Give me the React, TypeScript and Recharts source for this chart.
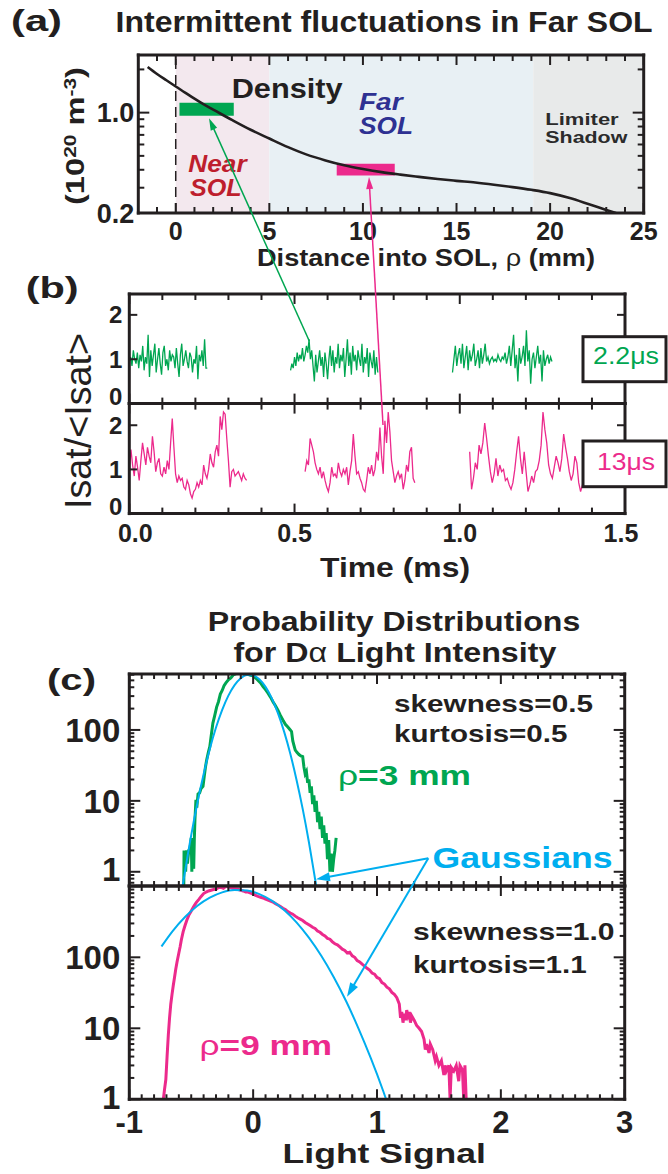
import React from 'react';
import { LineChart, Line, XAxis, YAxis, ReferenceArea, ReferenceLine } from 'recharts';

const W = 668;
const H = 1174;
const AX = 10;
const FONT = '"Liberation Sans", Arial, Helvetica, sans-serif';
const INK = '#231f20';
const GREEN = '#00a651';
const PINK = '#ec2a8c';
const CYAN = '#00aeef';
const NEAR_RED = '#be1e2d';
const FAR_BLUE = '#2e3192';

// ---------------- Panel (a): density profile ----------------
const rhoMm = [-1.5, -1, -0.5, 0, 0.5, 1, 1.5, 2, 3, 4, 5, 6, 7, 8, 9, 10, 11, 12, 13, 14, 15, 16, 17, 18, 19, 20, 21, 22, 23, 23.6];
const densityE20 = [2.08, 1.86, 1.68, 1.52, 1.38, 1.25, 1.14, 1.05, 0.89, 0.76, 0.66, 0.575, 0.51, 0.465, 0.43, 0.405, 0.385, 0.37, 0.357, 0.345, 0.335, 0.326, 0.315, 0.303, 0.29, 0.275, 0.255, 0.232, 0.21, 0.198];
const solBounds = [-2, 0, 5, 19.1, 25]; // private, near SOL, far SOL, limiter shadow
const nearProbe = { x: [0.2, 3.1], n: [0.95, 1.17] };
const farProbe = { x: [8.6, 11.7], n: [0.365, 0.44] };
const aXTicks = [-1, 0, 1, 2, 3, 4, 5, 6, 7, 8, 9, 10, 11, 12, 13, 14, 15, 16, 17, 18, 19, 20, 21, 22, 23, 24, 25];
const aXMajors = [0, 5, 10, 15, 20, 25];
const aYTicks = [0.2, 0.3, 0.4, 0.5, 0.6, 0.7, 0.8, 0.9, 1, 2];
const aYMajors = [0.2, 1];

// ---------------- Panel (b): Isat time traces ----------------
const g1Span = [0, 0.236];
const g1 = [0.95, 1.05, 0.85, 1.2, 1.0, 0.9, 1.15, 0.8, 1.1, 0.95, 1.3, 0.75, 1.05, 0.9, 1.55, 0.6, 1.2, 0.85, 1.1, 1.35, 0.7, 1.0, 1.25, 0.9, 0.65, 1.15, 1.3, 0.85, 1.0, 0.75, 1.2, 0.95, 1.1, 1.05, 0.8, 1.25, 0.9, 0.6, 1.1, 1.35, 0.85, 1.0, 1.2, 0.95, 0.8, 1.15, 1.05, 0.7, 1.0, 0.9, 1.3, 0.55, 1.1, 0.95, 1.2, 0.85, 1.45, 0.8, 0.8];
const g2Span = [0.488, 0.752];
const g2 = [0.75, 0.9, 0.8, 1.05, 0.85, 1.15, 0.95, 1.1, 1.0, 1.25, 0.95, 1.1, 1.3, 1.15, 1.45, 1.0, 1.2, 0.85, 0.5, 1.1, 0.7, 0.95, 1.2, 0.85, 1.05, 0.6, 1.15, 0.9, 0.55, 1.0, 1.3, 0.85, 1.2, 0.7, 1.05, 0.9, 1.35, 0.8, 1.1, 0.95, 1.25, 0.6, 1.0, 1.45, 0.85, 1.15, 0.65, 1.3, 0.95, 1.1, 0.75, 1.2, 1.0, 0.85, 1.35, 0.7, 1.05, 0.9, 1.25, 0.6, 1.15, 0.95, 0.8, 1.2, 0.65, 1.05, 0.7];
const g3Span = [0.978, 1.279];
const g3 = [0.7, 1.0, 1.3, 0.85, 1.1, 1.25, 0.9, 1.35, 0.8, 1.05, 1.3, 0.75, 1.2, 0.95, 1.1, 1.35, 0.85, 1.0, 1.2, 0.8, 1.25, 0.9, 1.1, 1.35, 0.95, 1.05, 0.9, 1.0, 1.05, 0.95, 1.0, 0.95, 1.1, 1.0, 0.95, 1.05, 1.0, 1.15, 0.9, 1.05, 1.3, 0.85, 1.2, 1.55, 0.8, 1.1, 0.5, 1.25, 0.9, 1.05, 1.3, 0.85, 1.65, 0.95, 1.2, 0.45, 1.0, 1.15, 0.8, 1.05, 1.3, 0.9, 1.1, 0.5, 1.2, 0.85, 1.0, 1.1, 0.9, 1.05, 0.95];
const p1Span = [0, 0.355];
const p1 = [1.0, 1.45, 1.1, 0.85, 1.3, 1.05, 0.75, 1.2, 1.6, 1.35, 1.1, 1.5, 1.3, 1.15, 1.75, 1.4, 0.95, 1.15, 1.25, 0.9, 0.85, 1.05, 0.9, 1.2, 1.0, 1.6, 2.15, 1.5, 0.9, 0.7, 0.85, 0.75, 0.8, 0.6, 0.55, 0.75, 0.65, 0.45, 0.35, 0.5, 0.55, 0.7, 0.6, 0.75, 0.65, 1.1, 0.9, 0.8, 1.0, 1.35, 1.15, 1.05, 1.4, 1.55, 1.3, 2.2, 1.9, 2.3, 2.25, 1.7, 1.2, 0.6, 0.95, 1.0, 0.85, 0.9, 0.95, 0.85, 0.75, 0.9, 0.8, 0.75];
const p2Span = [0.532, 0.864];
const p2 = [0.95, 1.2, 1.1, 1.7, 1.55, 1.4, 1.15, 1.0, 0.9, 1.05, 0.8, 0.95, 0.75, 0.6, 0.5, 0.7, 1.05, 0.85, 0.9, 0.8, 1.15, 0.95, 0.85, 1.0, 0.9, 1.05, 0.65, 0.95, 1.2, 1.8, 1.3, 0.9, 0.95, 0.8, 0.7, 0.55, 0.5, 0.75, 1.05, 0.9, 1.1, 0.85, 1.0, 1.4, 1.2, 1.95, 1.3, 0.9, 2.1, 1.6, 2.3, 1.85, 1.2, 0.95, 0.7, 0.85, 0.95, 0.8, 0.9, 0.55, 0.75, 1.1, 0.95, 1.4, 1.5, 0.8, 0.7];
const p3Span = [1.03, 1.377];
const p3 = [1.4, 0.55, 0.8, 1.15, 1.0, 1.55, 1.35, 1.6, 2.05, 1.7, 1.3, 0.95, 0.7, 0.9, 1.25, 0.85, 1.1, 0.95, 1.0, 0.75, 0.8, 0.65, 0.55, 0.7, 1.0, 1.4, 1.75, 1.25, 0.9, 1.4, 0.95, 0.5, 0.65, 0.85, 0.7, 0.95, 1.0, 1.2, 1.55, 2.3, 1.9, 1.6, 1.1, 0.9, 0.8, 1.05, 1.3, 1.15, 0.95, 1.25, 1.8, 1.5, 1.25, 0.95, 0.75, 0.9, 1.3, 1.15, 0.7, 0.5, 0.65, 0.6];
const bTimeMajors = [0, 0.5, 1.0, 1.5];
const bTimeLabels = ['0.0', '0.5', '1.0', '1.5'];
const bYTicks = [0, 1, 2];

// ---------------- Panel (c): PDFs ----------------
const greenPdf: [number, number][] = [[-0.56, 0.63], [-0.558, 1.9], [-0.55, 1.9], [-0.545, 1.0], [-0.538, 2.0], [-0.53, 1.3], [-0.52, 2.0], [-0.51, 2.1], [-0.5, 3.0], [-0.495, 1.0], [-0.49, 3.0], [-0.48, 1.1], [-0.475, 2.9], [-0.47, 5.4], [-0.462, 10.3], [-0.455, 8], [-0.445, 12.5], [-0.432, 13], [-0.42, 15], [-0.405, 16], [-0.395, 22], [-0.385, 30], [-0.375, 38], [-0.36, 50], [-0.35, 58], [-0.34, 80], [-0.325, 125], [-0.31, 160], [-0.295, 210], [-0.28, 250], [-0.265, 320], [-0.25, 360], [-0.235, 420], [-0.22, 460], [-0.2, 510], [-0.18, 540], [-0.16, 600], [-0.14, 620], [-0.12, 680], [-0.1, 650], [-0.08, 660], [-0.06, 630], [-0.04, 610], [-0.02, 590], [0.0, 580], [0.02, 540], [0.04, 500], [0.06, 460], [0.08, 410], [0.1, 370], [0.12, 330], [0.14, 290], [0.16, 250], [0.18, 220], [0.2, 190], [0.22, 160], [0.24, 138], [0.26, 120], [0.28, 110], [0.3, 100], [0.31, 95], [0.32, 70], [0.33, 60], [0.34, 52], [0.355, 48], [0.37, 45], [0.385, 43], [0.4, 42], [0.41, 30], [0.42, 24], [0.43, 26], [0.44, 18], [0.45, 20], [0.46, 13], [0.47, 16], [0.48, 9], [0.49, 12], [0.5, 7], [0.51, 10], [0.52, 5], [0.53, 7], [0.54, 4], [0.55, 6], [0.56, 3], [0.57, 4.5], [0.58, 2.5], [0.59, 3.5], [0.6, 1.5], [0.61, 2.8], [0.62, 1.0], [0.63, 1.8], [0.64, 1.0], [0.65, 1.5], [0.66, 2.0], [0.67, 3.0]];
const gaussNear: [number, number][] = [[-0.57, 0.62], [-0.5, 3.28], [-0.45, 9.4], [-0.4, 23.8], [-0.35, 53.7], [-0.3, 108], [-0.25, 192], [-0.2, 305], [-0.15, 429], [-0.1, 537], [-0.05, 597], [0.0, 590], [0.05, 518], [0.1, 405], [0.15, 281], [0.2, 173], [0.25, 94.6], [0.3, 46.1], [0.35, 19.9], [0.4, 7.7], [0.45, 2.63], [0.5, 0.79], [0.51, 0.62]];
const pinkPdf: [number, number][] = [[-0.725, 1.0], [-0.715, 1.4], [-0.705, 1.9], [-0.695, 4], [-0.685, 8], [-0.675, 14], [-0.665, 22], [-0.655, 30], [-0.645, 40], [-0.635, 52], [-0.625, 68], [-0.615, 85], [-0.6, 115], [-0.59, 140], [-0.58, 175], [-0.565, 230], [-0.55, 280], [-0.535, 335], [-0.52, 390], [-0.5, 450], [-0.48, 520], [-0.46, 590], [-0.44, 650], [-0.42, 720], [-0.4, 790], [-0.38, 830], [-0.36, 860], [-0.34, 880], [-0.32, 900], [-0.3, 910], [-0.28, 960], [-0.26, 970], [-0.24, 940], [-0.22, 1000], [-0.2, 980], [-0.18, 960], [-0.16, 930], [-0.14, 920], [-0.12, 900], [-0.1, 880], [-0.08, 860], [-0.06, 830], [-0.04, 830], [-0.02, 800], [0.0, 780], [0.02, 745], [0.04, 720], [0.06, 700], [0.08, 685], [0.1, 660], [0.12, 640], [0.14, 620], [0.16, 600], [0.18, 570], [0.2, 545], [0.22, 520], [0.24, 490], [0.26, 470], [0.28, 440], [0.3, 420], [0.32, 405], [0.34, 380], [0.36, 360], [0.38, 345], [0.4, 330], [0.42, 310], [0.44, 295], [0.46, 280], [0.48, 265], [0.5, 255], [0.52, 235], [0.54, 225], [0.56, 210], [0.58, 200], [0.6, 185], [0.62, 180], [0.64, 165], [0.66, 155], [0.68, 150], [0.7, 140], [0.72, 130], [0.74, 125], [0.76, 115], [0.78, 118], [0.8, 105], [0.82, 100], [0.84, 90], [0.86, 86], [0.88, 80], [0.9, 75], [0.92, 70], [0.94, 66], [0.96, 60], [0.98, 58], [1.0, 52], [1.02, 50], [1.04, 44], [1.06, 42], [1.08, 38], [1.1, 36], [1.12, 32], [1.14, 30], [1.16, 27], [1.18, 22], [1.19, 14], [1.2, 17], [1.21, 12], [1.22, 16], [1.23, 13], [1.24, 18], [1.25, 15], [1.26, 17], [1.27, 12], [1.28, 15], [1.3, 13], [1.32, 11], [1.34, 10], [1.36, 9], [1.38, 7], [1.39, 5], [1.4, 6], [1.42, 4.5], [1.43, 6], [1.45, 5], [1.47, 3.5], [1.48, 4], [1.5, 3], [1.52, 3.5], [1.54, 2.2], [1.55, 3], [1.56, 2.5], [1.58, 3], [1.59, 1.0], [1.6, 2.8], [1.62, 2.5], [1.64, 3], [1.66, 1.8], [1.67, 3], [1.69, 2.6], [1.7, 1.0], [1.71, 3], [1.72, 1.0]];
const gaussFar: [number, number][] = [[-0.74, 142], [-0.65, 234], [-0.55, 369], [-0.45, 531], [-0.35, 692], [-0.25, 822], [-0.15, 887], [-0.05, 871], [0.05, 777], [0.15, 630], [0.25, 464], [0.35, 311], [0.45, 189], [0.55, 105], [0.65, 52.8], [0.75, 24.2], [0.85, 10.0], [0.95, 3.8], [1.05, 1.31], [1.08, 0.93]];
const cXMajors = [-1, 0, 1, 2, 3];
const cYMajors = [1, 10, 100, 1000];
const cYTicksUpper = [0.7, 0.8, 0.9, 1, 2, 3, 4, 5, 6, 7, 8, 9, 10, 20, 30, 40, 50, 60, 70, 80, 90, 100, 200, 300, 400, 500, 600];
const cYTicksLower = [1, 2, 3, 4, 5, 6, 7, 8, 9, 10, 20, 30, 40, 50, 60, 70, 80, 90, 100, 200, 300, 400, 500, 600, 700, 800, 900, 1000];

// ---------------- helpers ----------------
const steps = (a: number, b: number, n: number) => Array.from({ length: n + 1 }, (_, i) => Math.round((a + ((b - a) * i) / n) * 1000) / 1000);
const series = (span: number[], vals: number[]) => vals.map((y, i) => ({ x: span[0] + ((span[1] - span[0]) * i) / (vals.length - 1), y }));
const pairs = (p: [number, number][]) => p.map(([x, y]) => ({ x, y }));
const isIn = (arr: number[], v: number) => arr.some((m) => Math.abs(m - v) < 1e-9);

type Side = 'bottom' | 'top' | 'left' | 'right';
interface TickSpec {
  side: Side;
  majors: number[];
  majorLen: number;
  minorLen: number;
  label?: (v: number) => string | null;
  fontSize?: number;
  gap?: number;
  nudge?: (v: number) => number;
}

function tickRenderer(spec: TickSpec) {
  return (props: any) => {
    const x = Number(props.x);
    const y = Number(props.y);
    const v = Number(props.payload.value);
    const len = isIn(spec.majors, v) ? spec.majorLen : spec.minorLen;
    let x2 = x;
    let y2 = y;
    if (spec.side === 'bottom') y2 = y - len;
    if (spec.side === 'top') y2 = y + len;
    if (spec.side === 'left') x2 = x + len;
    if (spec.side === 'right') x2 = x - len;
    const text = spec.label ? spec.label(v) : null;
    const fs = spec.fontSize ?? 24;
    const nudge = spec.nudge ? spec.nudge(v) : 0;
    return (
      <g>
        <line x1={x} y1={y} x2={x2} y2={y2} stroke={INK} strokeWidth={2} />
        {text !== null && spec.side === 'bottom' && (
          <text x={x + nudge} y={y + (spec.gap ?? 28)} textAnchor="middle" fontFamily={FONT} fontWeight="bold" fontSize={fs} fill={INK}>
            {text}
          </text>
        )}
        {text !== null && spec.side === 'left' && (
          <text x={x - (spec.gap ?? 6)} y={y + fs * 0.36 + nudge} textAnchor="end" fontFamily={FONT} fontWeight="bold" fontSize={fs} fill={INK}>
            {text}
          </text>
        )}
      </g>
    );
  };
}

interface FrameCfg {
  xDomain: [number, number];
  xTicks: number[];
  xMajors: number[];
  xMajorLen: number;
  xMinorLen: number;
  xLabel?: (v: number) => string | null;
  xFont?: number;
  xGap?: number;
  xNudge?: (v: number) => number;
  yDomain: [number, number];
  yLog?: boolean;
  yTicks: number[];
  yMajors: number[];
  yMajorLen: number;
  yMinorLen: number;
  yLabel?: (v: number) => string | null;
  yFont?: number;
  yGap?: number;
  yNudge?: (v: number) => number;
}

function frameAxes(c: FrameCfg) {
  const axisLine = { stroke: INK, strokeWidth: 3, strokeLinecap: 'square' };
  const ys = c.yLog ? 'log' : 'linear';
  return [
    <XAxis key="xb" xAxisId="b" orientation="bottom" type="number" dataKey="x" height={AX} domain={c.xDomain} ticks={c.xTicks} interval={0} allowDataOverflow tickLine={false} tickSize={0} tickMargin={0} axisLine={axisLine}
      tick={tickRenderer({ side: 'bottom', majors: c.xMajors, majorLen: c.xMajorLen, minorLen: c.xMinorLen, label: c.xLabel, fontSize: c.xFont, gap: c.xGap, nudge: c.xNudge })} />,
    <XAxis key="xt" xAxisId="t" orientation="top" type="number" dataKey="x" height={AX} domain={c.xDomain} ticks={c.xTicks} interval={0} allowDataOverflow tickLine={false} tickSize={0} tickMargin={0} axisLine={axisLine}
      tick={tickRenderer({ side: 'top', majors: c.xMajors, majorLen: c.xMajorLen, minorLen: c.xMinorLen })} />,
    <YAxis key="yl" yAxisId="l" orientation="left" type="number" scale={ys} width={AX} domain={c.yDomain} ticks={c.yTicks} interval={0} allowDataOverflow tickLine={false} tickSize={0} tickMargin={0} axisLine={axisLine}
      tick={tickRenderer({ side: 'left', majors: c.yMajors, majorLen: c.yMajorLen, minorLen: c.yMinorLen, label: c.yLabel, fontSize: c.yFont, gap: c.yGap, nudge: c.yNudge })} />,
    <YAxis key="yr" yAxisId="r" orientation="right" type="number" scale={ys} width={AX} domain={c.yDomain} ticks={c.yTicks} interval={0} allowDataOverflow tickLine={false} tickSize={0} tickMargin={0} axisLine={axisLine}
      tick={tickRenderer({ side: 'right', majors: c.yMajors, majorLen: c.yMajorLen, minorLen: c.yMinorLen })} />,
  ];
}

interface Box { l: number; r: number; t: number; b: number }
const marginFor = (b: Box) => ({ left: b.l - AX, right: W - b.r - AX, top: b.t - AX, bottom: H - b.b - AX });

const BOX_A: Box = { l: 138.3, r: 643.7, t: 55, b: 213 };
const BOX_B1: Box = { l: 129.3, r: 625, t: 294, b: 403.6 };
const BOX_B2: Box = { l: 129.3, r: 625, t: 403.6, b: 513.6 };
const BOX_C1: Box = { l: 129.3, r: 624.7, t: 674, b: 886 };
const BOX_C2: Box = { l: 129.3, r: 624.7, t: 886, b: 1099.3 };

const layer: React.CSSProperties = { position: 'absolute', left: 0, top: 0 };

function Arrow({ x1, y1, x2, y2, color, width, head, half }: any) {
  const dx = x2 - x1;
  const dy = y2 - y1;
  const L = Math.hypot(dx, dy);
  const ux = dx / L;
  const uy = dy / L;
  const bx = x2 - ux * head;
  const by = y2 - uy * head;
  const px = -uy;
  const py = ux;
  return (
    <g>
      <line x1={x1} y1={y1} x2={bx + ux * 2} y2={by + uy * 2} stroke={color} strokeWidth={width} />
      <polygon points={`${x2},${y2} ${bx + px * half},${by + py * half} ${bx - px * half},${by - py * half}`} fill={color} />
    </g>
  );
}

const lbl = (props: any) => <text fontFamily={FONT} fill={INK} fontWeight="bold" lengthAdjust="spacingAndGlyphs" {...props} />;

export default function App() {
  const densityData = rhoMm.map((x, i) => ({ x, y: densityE20[i] }));
  const bTimeTicks = steps(0, 1.5, 15);
  const cXTicks = steps(-1, 3, 40);
  const solFills = ['#ffffff', '#f3e8ee', '#e8f0f4', '#e8eaea'];

  const lineProps = { xAxisId: 'b', yAxisId: 'l', dataKey: 'y', dot: false, isAnimationActive: false, type: 'linear' as const, activeDot: false };

  return (
    <div style={{ position: 'absolute', left: 0, top: 0, width: W, height: H, background: '#ffffff', overflow: 'hidden' }}>
      {/* Panel (a) */}
      <div style={layer}>
        <LineChart width={W} height={H} margin={marginFor(BOX_A)}>
          {solBounds.slice(0, -1).map((x1, i) => (
            <ReferenceArea key={`sol${i}`} xAxisId="b" yAxisId="l" x1={x1} x2={solBounds[i + 1]} fill={solFills[i]} fillOpacity={1} stroke="none" ifOverflow="hidden" />
          ))}
          <ReferenceLine xAxisId="b" yAxisId="l" x={0} stroke={INK} strokeWidth={1.5} strokeDasharray="10 6" />
          <ReferenceArea xAxisId="b" yAxisId="l" x1={nearProbe.x[0]} x2={nearProbe.x[1]} y1={nearProbe.n[0]} y2={nearProbe.n[1]} fill={GREEN} fillOpacity={1} stroke="none" />
          <ReferenceArea xAxisId="b" yAxisId="l" x1={farProbe.x[0]} x2={farProbe.x[1]} y1={farProbe.n[0]} y2={farProbe.n[1]} fill={PINK} fillOpacity={1} stroke="none" />
          {frameAxes({
            xDomain: [-2, 25], xTicks: aXTicks, xMajors: aXMajors, xMajorLen: 10, xMinorLen: 6,
            xLabel: (v) => (isIn(aXMajors, v) ? String(v) : null), xFont: 25, xGap: 27,
            yDomain: [0.2, 2.52], yLog: true, yTicks: aYTicks, yMajors: aYMajors, yMajorLen: 11, yMinorLen: 6,
            yLabel: (v) => (Math.abs(v - 1) < 1e-9 ? '1.0' : Math.abs(v - 0.2) < 1e-9 ? '0.2' : null), yFont: 27, yGap: 4,
          })}
          <Line {...lineProps} data={densityData} type="monotone" stroke={INK} strokeWidth={2.6} />
        </LineChart>
      </div>

      {/* Panel (b) top: 2.2 us */}
      <div style={layer}>
        <LineChart width={W} height={H} margin={marginFor(BOX_B1)}>
          {frameAxes({
            xDomain: [0, 1.5], xTicks: bTimeTicks, xMajors: bTimeMajors, xMajorLen: 10, xMinorLen: 6,
            yDomain: [0, 2.47], yTicks: bYTicks, yMajors: bYTicks, yMajorLen: 8, yMinorLen: 8,
            yLabel: (v) => String(v), yFont: 24, yGap: 7, yNudge: (v) => (v === 0 ? -7 : 0),
          })}
          <Line {...lineProps} data={series(g1Span, g1)} stroke={GREEN} strokeWidth={1.3} />
          <Line {...lineProps} data={series(g2Span, g2)} stroke={GREEN} strokeWidth={1.3} />
          <Line {...lineProps} data={series(g3Span, g3)} stroke={GREEN} strokeWidth={1.3} />
        </LineChart>
      </div>

      {/* Panel (b) bottom: 13 us */}
      <div style={layer}>
        <LineChart width={W} height={H} margin={marginFor(BOX_B2)}>
          {frameAxes({
            xDomain: [0, 1.5], xTicks: bTimeTicks, xMajors: bTimeMajors, xMajorLen: 10, xMinorLen: 6,
            xLabel: (v) => { const i = bTimeMajors.findIndex((m) => Math.abs(m - v) < 1e-9); return i >= 0 ? bTimeLabels[i] : null; },
            xFont: 25, xGap: 28, xNudge: (v) => (v === 0 ? 6 : v === 1.5 ? -4 : 0),
            yDomain: [0, 2.49], yTicks: bYTicks, yMajors: bYTicks, yMajorLen: 8, yMinorLen: 8,
            yLabel: (v) => String(v), yFont: 24, yGap: 7, yNudge: (v) => (v === 0 ? -7 : 0),
          })}
          <Line {...lineProps} data={series(p1Span, p1)} stroke={PINK} strokeWidth={1.3} />
          <Line {...lineProps} data={series(p2Span, p2)} stroke={PINK} strokeWidth={1.3} />
          <Line {...lineProps} data={series(p3Span, p3)} stroke={PINK} strokeWidth={1.3} />
        </LineChart>
      </div>

      {/* Panel (c) top: rho = 3 mm */}
      <div style={layer}>
        <LineChart width={W} height={H} margin={marginFor(BOX_C1)}>
          {frameAxes({
            xDomain: [-1, 3], xTicks: cXTicks, xMajors: cXMajors, xMajorLen: 10, xMinorLen: 5,
            yDomain: [0.63, 615], yLog: true, yTicks: cYTicksUpper, yMajors: cYMajors, yMajorLen: 11, yMinorLen: 5,
            yLabel: (v) => (isIn([1, 10, 100], v) ? String(v) : null), yFont: 33, yGap: 9, yNudge: (v) => (v === 1 ? -3 : 0),
          })}
          <Line {...lineProps} data={pairs(greenPdf)} stroke={GREEN} strokeWidth={3} />
          <Line {...lineProps} data={pairs(gaussNear)} type="monotone" stroke={CYAN} strokeWidth={2} />
        </LineChart>
      </div>

      {/* Panel (c) bottom: rho = 9 mm */}
      <div style={layer}>
        <LineChart width={W} height={H} margin={marginFor(BOX_C2)}>
          {frameAxes({
            xDomain: [-1, 3], xTicks: cXTicks, xMajors: cXMajors, xMajorLen: 10, xMinorLen: 5,
            xLabel: (v) => (isIn(cXMajors, v) ? String(Math.round(v)) : null), xFont: 31, xGap: 34,
            yDomain: [1, 1010], yLog: true, yTicks: cYTicksLower, yMajors: cYMajors, yMajorLen: 11, yMinorLen: 5,
            yLabel: (v) => (isIn([1, 10, 100], v) ? String(v) : null), yFont: 33, yGap: 9, yNudge: (v) => (v === 1 ? -2 : 0),
          })}
          <Line {...lineProps} data={pairs(pinkPdf)} stroke={PINK} strokeWidth={3} />
          <Line {...lineProps} data={pairs(gaussFar)} type="monotone" stroke={CYAN} strokeWidth={2} />
        </LineChart>
      </div>

      {/* Annotations */}
      <svg width={W} height={H} style={{ ...layer, pointerEvents: 'none' }}>
        {/* Panel (a) */}
        {lbl({ x: 11, y: 31, fontSize: 29, textLength: 51, children: '(a)' })}
        {lbl({ x: 115.6, y: 31.7, fontSize: 29, textLength: 537, children: 'Intermittent fluctuations in Far SOL' })}
        <text transform="translate(84,136) rotate(-90)" textAnchor="middle" fontFamily={FONT} fontWeight="bold" fontSize={25} fill={INK} textLength={138} lengthAdjust="spacingAndGlyphs">
          (10<tspan baselineShift="super" fontSize={16}>20</tspan><tspan> m</tspan><tspan baselineShift="super" fontSize={16}>-3</tspan><tspan>)</tspan>
        </text>
        {lbl({ x: 231.7, y: 98.3, fontSize: 28, textLength: 111, children: 'Density' })}
        {lbl({ x: 359, y: 110, fontSize: 23, fontStyle: 'italic', fill: FAR_BLUE, textLength: 43.6, children: 'Far' })}
        {lbl({ x: 359, y: 134, fontSize: 23, fontStyle: 'italic', fill: FAR_BLUE, textLength: 54, children: 'SOL' })}
        {lbl({ x: 188.3, y: 171.7, fontSize: 23, fontStyle: 'italic', fill: NEAR_RED, textLength: 58.4, children: 'Near' })}
        {lbl({ x: 190, y: 195.7, fontSize: 23, fontStyle: 'italic', fill: NEAR_RED, textLength: 51.7, children: 'SOL' })}
        {lbl({ x: 545.3, y: 124.5, fontSize: 17, fill: '#2b2b2b', textLength: 73.4, children: 'Limiter' })}
        {lbl({ x: 545.3, y: 142.5, fontSize: 17, fill: '#2b2b2b', textLength: 82, children: 'Shadow' })}
        <text x={257} y={266} fontFamily={FONT} fontWeight="bold" fontSize={23} fill={INK} textLength={338} lengthAdjust="spacingAndGlyphs">
          Distance into SOL, <tspan fontWeight="normal">ρ</tspan> (mm)
        </text>

        {/* Panel (b) */}
        {lbl({ x: 25.7, y: 298, fontSize: 30, textLength: 53, children: '(b)' })}
        <text transform="translate(91,421) rotate(-90)" textAnchor="middle" fontFamily={FONT} fontSize={37} fill={INK} textLength={176} lengthAdjust="spacingAndGlyphs">
          Isat/&lt;Isat&gt;
        </text>
        <rect x={583} y={336.7} width={83} height={45} fill="#ffffff" stroke={INK} strokeWidth={3} />
        <text x={626} y={363.5} textAnchor="middle" fontFamily={FONT} fontSize={24} fill={GREEN} textLength={66} lengthAdjust="spacingAndGlyphs">2.2μs</text>
        <rect x={583} y={441} width={83} height={45.7} fill="#ffffff" stroke={INK} strokeWidth={3} />
        <text x={626} y={470} textAnchor="middle" fontFamily={FONT} fontSize={24} fill={PINK} textLength={58} lengthAdjust="spacingAndGlyphs">13μs</text>
        {lbl({ x: 320, y: 577, fontSize: 28, textLength: 150, children: 'Time (ms)' })}

        {/* Panel (c) */}
        {lbl({ x: 207.7, y: 630.7, fontSize: 27, textLength: 372.6, children: 'Probability Distributions' })}
        <text x={233.4} y={661.7} fontFamily={FONT} fontWeight="bold" fontSize={27} fill={INK} textLength={323} lengthAdjust="spacingAndGlyphs">
          for D<tspan fontWeight="normal">α</tspan> Light Intensity
        </text>
        {lbl({ x: 47, y: 690, fontSize: 30, textLength: 49, children: '(c)' })}
        {lbl({ x: 394, y: 711.7, fontSize: 24, textLength: 199, children: 'skewness=0.5' })}
        {lbl({ x: 394, y: 741.7, fontSize: 24, textLength: 173.5, children: 'kurtosis=0.5' })}
        <text x={338} y={785} fontFamily={FONT} fontWeight="bold" fontSize={28} fill={GREEN} textLength={133} lengthAdjust="spacingAndGlyphs">
          <tspan fontWeight="normal">ρ</tspan>=3 mm
        </text>
        {lbl({ x: 432.5, y: 868.3, fontSize: 30, fill: CYAN, textLength: 180, children: 'Gaussians' })}
        {lbl({ x: 413, y: 940, fontSize: 24, textLength: 201.6, children: 'skewness=1.0' })}
        {lbl({ x: 413, y: 972.7, fontSize: 24, textLength: 173.7, children: 'kurtosis=1.1' })}
        <text x={199.6} y={1055} fontFamily={FONT} fontWeight="bold" fontSize={28} fill={PINK} textLength={132.4} lengthAdjust="spacingAndGlyphs">
          <tspan fontWeight="normal">ρ</tspan>=9 mm
        </text>
        {lbl({ x: 282.6, y: 1163, fontSize: 28, textLength: 203.4, children: 'Light Signal' })}

        {/* Arrows */}
        <Arrow x1={309.3} y1={341} x2={209} y2={118.3} color={GREEN} width={1.5} head={12} half={3.5} />
        <Arrow x1={383} y1={425} x2={369} y2={177} color={PINK} width={1.5} head={12} half={3.5} />
        <Arrow x1={428.3} y1={858.3} x2={316} y2={879.3} color={CYAN} width={2} head={14} half={4.5} />
        <Arrow x1={428.3} y1={858.3} x2={347} y2={996.7} color={CYAN} width={2} head={14} half={4.5} />
      </svg>
    </div>
  );
}
